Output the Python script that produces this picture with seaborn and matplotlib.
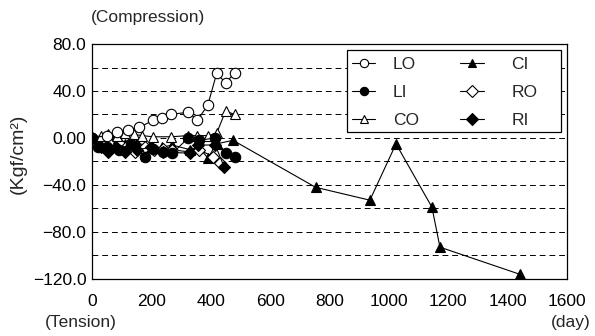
import matplotlib
matplotlib.use("Agg")
import matplotlib.pyplot as plt
import seaborn as sns
import pandas as pd
from matplotlib.lines import Line2D
from matplotlib.patches import Rectangle

sns.set_theme(style="white")
plt.rcParams['font.family'] = ['Liberation Sans', 'DejaVu Sans']

# ---- data ----
lo_days = [0, 50, 85, 120, 160, 205, 235, 265, 325, 355, 390, 420, 450, 480]
lo_vals = [0, 2, 5, 7, 9, 15, 17, 20, 22, 15, 28, 55, 47, 55]

li_days = [0, 20, 50, 90, 130, 180, 205, 240, 270, 325, 360, 415, 450, 480]
li_vals = [0, -8, -8, -10, -5, -16, -9, -12, -13, 0, -2, 0, -13, -16]

co_days = [0, 30, 55, 85, 110, 140, 170, 205, 265, 325, 355, 390, 420, 450, 480]
co_vals = [0, 2, 3, 2, 4, 3, 2, 1, 1, 2, 2, 2, 4, 23, 20]

ci_days = [0, 30, 70, 110, 150, 200, 235, 270, 330, 360, 390, 420, 475,
           753, 936, 1024, 1145, 1172, 1440]
ci_vals = [0, -3, -2, -5, -4, -8, -8, -6, -10, -8, -17, -5, -2,
           -42, -53, -5, -59, -93, -116]

ro_days = [0, 30, 60, 90, 120, 146, 180, 210, 240, 270, 330, 360, 409, 432]
ro_vals = [0, -3, -5, -4, -6, -12, -8, -10, -9, -10, -12, -10, -16, -21]

ri_days = [0, 30, 55, 80, 111, 150, 200, 240, 331, 358, 415, 446]
ri_vals = [0, -8, -12, -8, -12, -10, -8, -12, -13, -6, -6, -25]

series = ["LO", "LI", "CO", "CI", "RO", "RI"]
x_ticks = [0, 200, 400, 600, 800, 1000, 1200, 1400, 1600]
y_ticks = [80, 40, 0, -40, -80, -120]
y_tick_labels = ["80.0", "40.0", "0.00", "\u221240.0", "\u221280.0", "\u2212120.0"]

data = {
    "LO": (lo_days, lo_vals), "LI": (li_days, li_vals), "CO": (co_days, co_vals),
    "CI": (ci_days, ci_vals), "RO": (ro_days, ro_vals), "RI": (ri_days, ri_vals),
}
styles = {
    "LO": ("o", "white", 7.5), "LI": ("o", "black", 7.5), "CO": ("^", "white", 7.5),
    "CI": ("^", "black", 7.5), "RO": ("D", "white", 6), "RI": ("D", "black", 6),
}

FS = 12.5
fig = plt.figure(figsize=(5.95, 3.36), dpi=100)
ax = fig.add_axes([0.1546, 0.170, 0.7984, 0.699])

draw_order = ["CI", "RO", "RI", "CO", "LO", "LI"]
for name in draw_order:
    d, v = data[name]
    df = pd.DataFrame({"day": d, "val": v})
    m, fc, ms = styles[name]
    sns.lineplot(data=df, x="day", y="val", ax=ax, color="black", lw=0.8,
                 marker=m, markersize=ms, markerfacecolor=fc,
                 markeredgecolor="black", markeredgewidth=0.8,
                 estimator=None, sort=True, legend=False)

ax.set_xlim(0, 1600)
ax.set_ylim(-120, 80)
ax.set_xticks(x_ticks)
ax.set_xticklabels([str(t) for t in x_ticks])
ax.set_yticks(y_ticks)
ax.set_yticklabels(y_tick_labels)
ax.set_xlabel("")
ax.set_ylabel("")
for yv in range(-100, 80, 20):
    ax.axhline(yv, color="black", lw=0.7, ls=(0, (6, 4)), zorder=0)

for s in ax.spines.values():
    s.set_color("black")
    s.set_linewidth(0.9)
ax.tick_params(axis="x", direction="in", length=4, width=0.8, colors="black",
               labelsize=FS, pad=11)
ax.tick_params(axis="y", direction="out", length=0, width=0.8, colors="black",
               labelsize=FS, pad=4)
ax.tick_params(axis="both", labelcolor="black")

fig.text(0.152, 0.948, "(Compression)", fontsize=FS, ha="left", va="center")
fig.text(0.075, 0.040, "(Tension)", fontsize=FS, ha="left", va="center")
fig.text(0.992, 0.040, "(day)", fontsize=FS, ha="right", va="center")
fig.text(0.030, 0.543, "(Kgf/cm\u00b2)", fontsize=14, rotation=90,
         ha="center", va="center")

handles = []
for name in series:
    m, fc, ms = styles[name]
    handles.append(Line2D([], [], color="black", lw=0.8, marker=m,
                          markersize=6, markerfacecolor=fc,
                          markeredgecolor="black", markeredgewidth=0.8))

common = dict(loc="upper left", fontsize=FS, frameon=False, handlelength=1.35,
              labelspacing=0.75, borderpad=0, borderaxespad=0)
leg1 = ax.legend(handles[:3], series[:3], bbox_to_anchor=(0.547, 0.947),
                 handletextpad=1.0, **common)
ax.add_artist(leg1)
leg2 = ax.legend(handles[3:], series[3:], bbox_to_anchor=(0.775, 0.947),
                 handletextpad=1.6, **common)
ax.add_artist(Rectangle((0.537, 0.626), 0.4505, 0.349, transform=ax.transAxes,
                        facecolor="white", edgecolor="black", lw=0.9, zorder=4))
leg1.set_zorder(5)
leg2.set_zorder(5)

fig.savefig("out.png", dpi=100, facecolor="white")
